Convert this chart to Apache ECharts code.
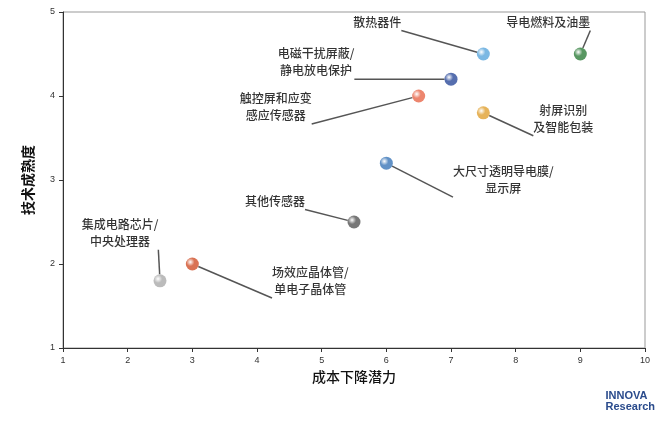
<!DOCTYPE html>
<html><head><meta charset="utf-8">
<script src="https://cdn.jsdelivr.net/npm/echarts@6/dist/echarts.min.js"></script>
<style>html,body{margin:0;padding:0;background:#fff}#c{width:665px;height:424px}</style>
</head><body><div id="c"></div>
<script>
const names = ['散热器件','导电燃料及油墨','电磁干扰屏蔽/\n静电放电保护','触控屏和应变\n感应传感器','射屏识别\n及智能包装','大尺寸透明导电膜/\n显示屏','其他传感器','集成电路芯片/\n中央处理器','场效应晶体管/\n单电子晶体管'];
const costPotential = [7.5, 9, 7, 6.5, 7.5, 6, 5.5, 2.5, 3];
const maturity = [4.5, 4.5, 4.2, 4.0, 3.8, 3.2, 2.5, 1.8, 2.0];
const colors = ['#5aa6dc','#2e7d3a','#2b4a9a','#e8674a','#e0a030','#3a76b8','#555555','#aaaaaa','#d0502a'];
const labelOffsets = [[-106,-32],[-32,-32],[-135,-17],[-143,11],[80,6],[117,17],[-79,-21],[-40,-48],[118,17]];
const xTicks = [1,2,3,4,5,6,7,8,9,10];
const yTicks = [1,2,3,4,5];

const data = names.map((n,i)=>({
  name:n, value:[costPotential[i], maturity[i]],
  itemStyle:{color:{type:'radial',x:0.35,y:0.35,r:0.7,colorStops:[{offset:0,color:'#ffffff'},{offset:0.45,color:colors[i]},{offset:1,color:colors[i]}]}},
  label:{offset:labelOffsets[i]}
}));
const chart = echarts.init(document.getElementById('c'));
chart.setOption({
  animation:false,
  grid:{left:63,right:20,top:12,bottom:76,show:true,borderColor:'#999',borderWidth:1},
  xAxis:{type:'value',min:1,max:10,interval:1,name:'成本下降潜力',nameLocation:'middle',nameGap:20,
    nameTextStyle:{fontSize:14,color:'#111',fontWeight:500,fontFamily:'Noto Sans CJK SC'},
    axisLine:{lineStyle:{color:'#333'}},axisTick:{show:true,length:4,inside:false},
    axisLabel:{fontSize:9,color:'#333',margin:8},splitLine:{show:false}},
  yAxis:{type:'value',min:1,max:5,interval:1,name:'技术成熟度',nameLocation:'middle',nameGap:28,
    nameTextStyle:{fontSize:14,color:'#111',fontWeight:'bold',fontFamily:'Noto Sans CJK SC'},
    axisLine:{show:true,lineStyle:{color:'#333'}},axisTick:{show:true,length:4},
    axisLabel:{fontSize:9,color:'#333',margin:8},splitLine:{show:false}},
  series:[{type:'scatter',symbolSize:13,data:data,
    label:{show:true,formatter:p=>p.name,fontSize:12,color:'#000',fontWeight:500,lineHeight:17,align:'center',
      fontFamily:'Noto Sans CJK SC'},
    labelLine:{show:true,lineStyle:{color:'#555',width:1.5}}
  }],
  graphic:[{type:'text',right:10,bottom:12,style:{text:'INNOVA\nResearch',fill:'#2a4b8c',font:'bold 11px Arial',align:'center'}}]
});
</script></body></html>
